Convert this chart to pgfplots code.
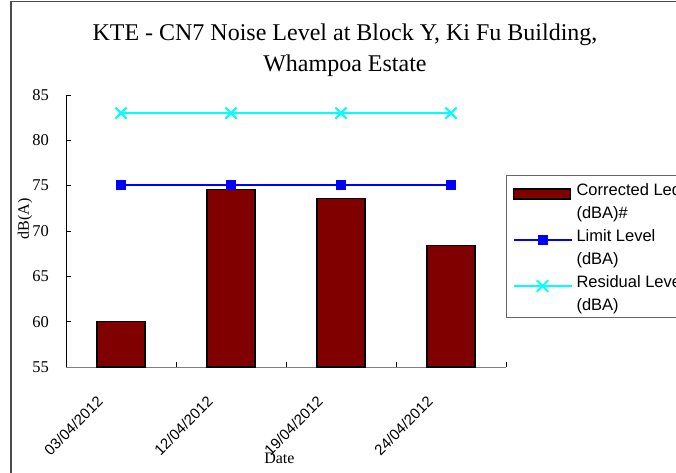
\documentclass[border=0pt]{standalone}
\usepackage{pgfplots}
\pgfplotsset{compat=1.18}
\usepackage{fontspec}
\setmainfont{Liberation Serif}
\setsansfont{Liberation Sans}
\definecolor{barred}{RGB}{128,0,0}
\definecolor{limblue}{RGB}{0,0,255}
\definecolor{rescyan}{RGB}{0,255,255}
\pgfplotsset{
  barleg/.style={legend image code/.code={\draw[##1] (0pt,-5pt) rectangle (57pt,5pt);}},
  lineleg/.style={legend image code/.code={\draw[mark repeat=2, mark phase=2, ##1] plot coordinates {(0pt,0pt) (29pt,0pt) (58pt,0pt)};}},
}
\begin{document}
\begin{tikzpicture}[x=1pt,y=1pt]
\useasboundingbox (0,0) rectangle (676,472);
\draw[line width=1.5pt, black!70] (11,-20) -- (11,470.5) -- (700,470.5);
\begin{axis}[
  at={(66pt,105pt)}, anchor=south west,
  scale only axis, width=440pt, height=272pt,
  xmin=-0.5, xmax=3.5, ymin=55, ymax=85,
  axis lines*=left,
  x axis line style={black!50, line width=1pt},
  y axis line style={black, line width=1pt},
  ytick={55,60,...,85},
  xtick={0.5,1.5,2.5,3.5},
  xticklabels={,,,},
  extra x ticks={0,1,2,3},
  extra x tick labels={03/04/2012,12/04/2012,19/04/2012,24/04/2012},
  extra x tick style={major tick length=0pt},
  major tick length=5pt,
  tick align=inside,
  tick style={black, line width=0.8pt},
  /pgf/number format/assume math mode=true,
  yticklabel style={font=\fontsize{16.5}{18}\selectfont, inner sep=0pt, xshift=-17pt},
  xticklabel style={font=\sffamily\fontsize{15}{18}\selectfont, inner sep=0pt, xshift=-25pt, yshift=-28pt, rotate=45, anchor=north east},
  xlabel={Date},
  xlabel style={font=\fontsize{16}{18}\selectfont, at={(axis description cs:0.485,-0.355)}, anchor=base, inner sep=0pt},
  ylabel={dB(A)},
  ylabel style={font=\fontsize{16}{18}\selectfont, at={(axis description cs:-0.093,0.544)}, anchor=center, inner sep=0pt},
  title={KTE - CN7 Noise Level at Block Y, Ki Fu Building,\\Whampoa Estate},
  title style={font=\fontsize{24}{31}\selectfont, align=center, at={(axis description cs:0.634,1.24)}, anchor=north, inner sep=0pt},
  legend style={at={(1,0.706)}, anchor=north west, draw=black!60, line width=1pt,
    font=\sffamily\fontsize{16.5}{18}\selectfont, inner xsep=6pt, inner ysep=7pt,
    row sep=0pt, column sep=4pt,
    nodes={inner sep=0pt, text height=13pt, text depth=10pt}},
  legend cell align=left,
]
\addplot[ybar, bar width=48pt, fill=barred, draw=black, line width=1.5pt, barleg]
  coordinates {(0,60.0) (1,74.6) (2,73.6) (3,68.4)};
\addlegendentry{Corrected Leq}
\addlegendimage{empty legend}
\addlegendentry{(dBA)\#}
\addplot[limblue, line width=2pt, mark=square*, mark size=4pt, lineleg]
  coordinates {(0,75.1) (1,75.1) (2,75.1) (3,75.1)};
\addlegendentry{Limit Level}
\addlegendimage{empty legend}
\addlegendentry{(dBA)}
\addplot[rescyan, line width=2pt, mark=x, mark size=8pt, mark options={line width=2pt}, lineleg]
  coordinates {(0,83) (1,83) (2,83) (3,83)};
\addlegendentry{Residual Level}
\addlegendimage{empty legend}
\addlegendentry[text depth=-10pt]{(dBA)}
\end{axis}
\end{tikzpicture}
\end{document}
